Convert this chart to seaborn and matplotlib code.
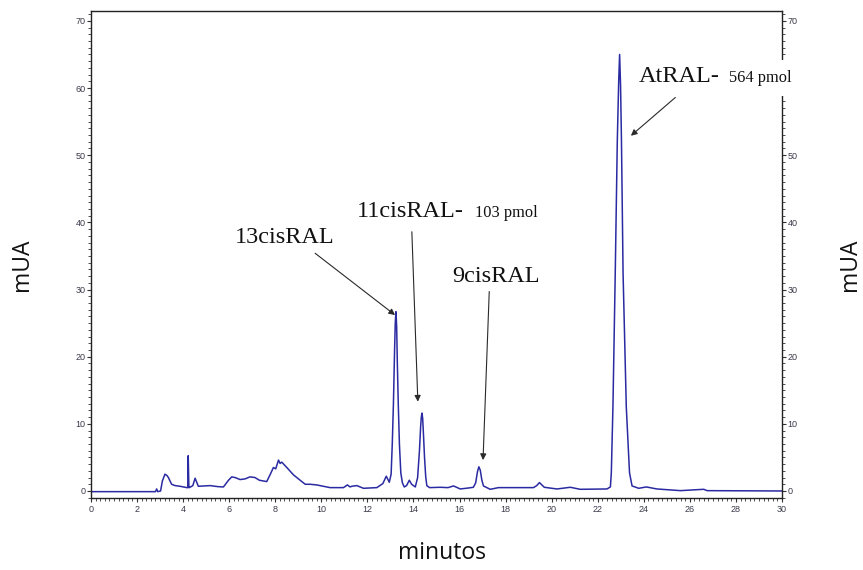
import numpy as np
import pandas as pd
import matplotlib
matplotlib.use("Agg")
import matplotlib.pyplot as plt
from matplotlib.ticker import MultipleLocator
import seaborn as sns

# ---- data ----
time_min = [0.0, 2.8, 2.85, 2.9, 3.02, 3.1, 3.21, 3.3, 3.36, 3.5, 3.65, 3.87, 4.16, 4.2, 4.22,
            4.25, 4.27, 4.42, 4.52, 4.66, 5.17, 5.5, 5.75, 5.97, 6.11, 6.26, 6.47, 6.69, 6.9,
            7.12, 7.31, 7.63, 7.8, 7.92, 8.02, 8.14, 8.21, 8.28, 8.5, 8.79, 9.08, 9.3, 9.51,
            9.8, 10.09, 10.38, 10.96, 11.13, 11.25, 11.32, 11.54, 11.83, 12.41, 12.67, 12.82,
            12.95, 13.03, 13.08, 13.13, 13.18, 13.21, 13.24, 13.27, 13.3, 13.34, 13.39, 13.45,
            13.52, 13.6, 13.7, 13.82, 13.92, 14.08, 14.18, 14.26, 14.31, 14.34, 14.37, 14.4,
            14.44, 14.48, 14.53, 14.58, 14.7, 15.16, 15.5, 15.74, 16.03, 16.4, 16.6, 16.7,
            16.78, 16.84, 16.9, 16.97, 17.04, 17.33, 17.69, 18.5, 19.21, 19.35, 19.47, 19.68,
            20.23, 20.81, 21.24, 22.4, 22.55, 22.59, 22.66, 22.76, 22.85, 22.91, 22.95, 22.99,
            23.03, 23.1, 23.24, 23.38, 23.49, 23.78, 24.11, 24.57, 25.59, 26.6, 26.75, 30.0]
signal_mua = [-0.1, -0.1, 0.3, -0.1, 0.0, 1.5, 2.5, 2.3, 2.0, 1.0, 0.8, 0.7, 0.5, 0.5, 5.25,
              0.5, 0.5, 0.8, 1.9, 0.7, 0.8, 0.65, 0.6, 1.6, 2.1, 2.0, 1.7, 1.8, 2.1,
              2.0, 1.6, 1.4, 2.6, 3.5, 3.3, 4.6, 4.1, 4.3, 3.5, 2.4, 1.6, 1.0, 1.0,
              0.9, 0.7, 0.5, 0.5, 0.9, 0.6, 0.7, 0.8, 0.4, 0.5, 1.1, 2.2,
              1.3, 2.5, 7.0, 13.0, 21.0, 25.0, 26.7, 24.5, 19.0, 13.0, 7.0, 2.7,
              1.2, 0.6, 0.8, 1.6, 1.0, 0.6, 2.0, 6.0, 9.5, 11.0, 11.6, 10.8,
              8.0, 5.0, 2.2, 0.8, 0.5, 0.55, 0.5, 0.75, 0.3, 0.45, 0.55, 1.2,
              2.9, 3.6, 3.1, 1.6, 0.75, 0.25, 0.5, 0.5, 0.5, 0.8, 1.25, 0.55,
              0.3, 0.55, 0.25, 0.3, 0.6, 2.7, 12.5, 32.4, 52.2, 61.0, 65.0, 60.5,
              52.2, 32.4, 12.5, 2.7, 0.75, 0.4, 0.6, 0.3, 0.05, 0.25, 0.05, 0.0]

peak_labels = ["13cisRAL", "11cisRAL-", "9cisRAL", "AtRAL-"]
peak_amounts = ["", "103 pmol", "", "564 pmol"]
peak_tips = [(13.2, 26.2), (14.19, 13.3), (17.02, 4.6), (23.44, 52.9)]
arrow_tails = [(9.73, 35.4), (13.93, 38.6), (17.29, 29.7), (25.37, 58.6)]
label_pos = [(6.26, 36.86), (11.54, 40.82), (15.67, 31.15), (23.76, 60.9)]
amount_pos = [None, (16.65, 40.82), None, (27.72, 60.9)]

df = pd.DataFrame({"minutos": time_min, "mUA": signal_mua})

sns.set_style("white")
plt.rcParams["font.family"] = ["Liberation Sans", "DejaVu Sans"]

fig = plt.figure(figsize=(8.63, 5.70), dpi=100)
ax = fig.add_axes([91 / 863, 1 - 498.3 / 570, (782 - 91) / 863, (498.3 - 10.5) / 570])

sns.lineplot(data=df, x="minutos", y="mUA", ax=ax, color="#2a2aa2", lw=1.1,
             estimator=None, sort=True)

ax.set_xlim(0, 30)
ax.set_ylim(-1.09, 71.55)
ax.set_xlabel("")
ax.set_ylabel("")

ax.xaxis.set_major_locator(MultipleLocator(2))
ax.xaxis.set_minor_locator(MultipleLocator(0.2))
ax.yaxis.set_major_locator(MultipleLocator(10))
ax.yaxis.set_minor_locator(MultipleLocator(1))
ax.yaxis.set_ticks_position("both")
ax.xaxis.set_ticks_position("bottom")
ax.tick_params(axis="y", which="both", direction="out", labelright=True, labelleft=True,
               colors="#333", labelcolor="#3a3a4a", labelsize=6.5, pad=1)
ax.tick_params(axis="y", which="major", length=3, width=0.8)
ax.tick_params(axis="y", which="minor", length=2, width=0.6)
ax.tick_params(axis="x", which="both", direction="out", colors="#333",
               labelcolor="#3a3a4a", labelsize=6.5, pad=2)
ax.tick_params(axis="x", which="major", length=3, width=0.8)
ax.tick_params(axis="x", which="minor", length=2, width=0.6)
for sp in ax.spines.values():
    sp.set_color("#222")
    sp.set_linewidth(1.0)

for lab, amt, tip, tail, lp, ap in zip(peak_labels, peak_amounts, peak_tips,
                                          arrow_tails, label_pos, amount_pos):
    ax.annotate("", xy=tip, xytext=tail,
                arrowprops=dict(arrowstyle="-|>", color="#2a2a2a", lw=0.8,
                                mutation_scale=9, shrinkA=0, shrinkB=0))
    ax.text(lp[0], lp[1], lab, family="Liberation Serif", fontsize=17.5,
            ha="left", va="baseline", color="#111", zorder=5, clip_on=False,
            bbox=dict(facecolor="white", edgecolor="none", pad=4) if amt == "564 pmol" else None)
    if ap is not None:
        ax.text(ap[0], ap[1], amt, family="Liberation Serif", fontsize=11.8,
                ha="left", va="baseline", color="#111", zorder=5, clip_on=False,
                bbox=dict(facecolor="white", edgecolor="none", pad=7) if amt == "564 pmol" else None)

fig.text(22 / 863, 1 - 265 / 570, "mUA", rotation=90, ha="center", va="center",
         fontsize=16.5, family=["Open Sans", "DejaVu Sans"], color="#111")
fig.text(850 / 863, 1 - 265 / 570, "mUA", rotation=90, ha="center", va="center",
         fontsize=16.5, family=["Open Sans", "DejaVu Sans"], color="#111")
fig.text(442 / 863, 1 - 553 / 570, "minutos", ha="center", va="center",
         fontsize=16.5, family=["Open Sans", "DejaVu Sans"], color="#111")

fig.savefig("out.png", dpi=100, facecolor="white")
